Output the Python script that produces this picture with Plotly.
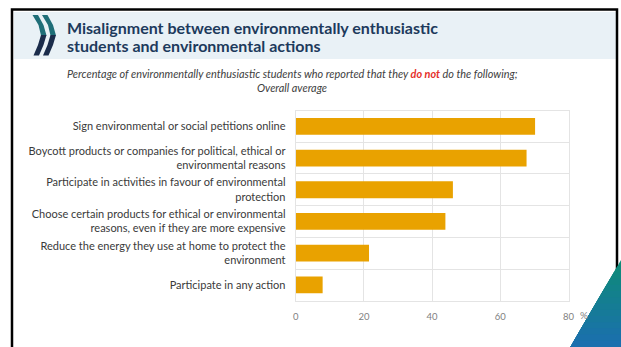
import plotly.graph_objects as go

# Survey items (top to bottom) and share of enthusiastic students who do NOT do them (%)
actions = [
    "Sign environmental or social petitions online",
    "Boycott products or companies for political, ethical or<br>environmental reasons",
    "Participate in activities in favour of environmental<br>protection",
    "Choose certain products for ethical or environmental<br>reasons, even if they are more expensive",
    "Reduce the energy they use at home to protect the<br>environment",
    "Participate in any action",
]
pct_not_doing = [70.2, 67.7, 46.1, 43.9, 21.5, 7.9]
x_ticks = [0, 20, 40, 60, 80]

W, H = 621, 347
FONT = "Lato, 'Liberation Sans', Arial, sans-serif"


def px(x):
    return x / W


def py(y):
    return 1 - y / H


def path(points):
    pts = [f"{px(x):.5f},{py(y):.5f}" for x, y in points]
    return "M" + " L".join(pts) + " Z"


fig = go.Figure()
fig.add_trace(go.Bar(
    x=pct_not_doing,
    y=actions,
    orientation="h",
    marker=dict(color="#E9A200", line=dict(width=0)),
    width=0.53,
    hoverinfo="x+y",
))

shapes = []
# header band
shapes.append(dict(type="rect", xref="paper", yref="paper",
                   x0=px(14), x1=px(616), y0=py(59), y1=py(12),
                   fillcolor="#E9F1F6", line=dict(width=0), layer="below"))
# slide frame
shapes.append(dict(type="path", xref="paper", yref="paper",
                   path=f"M{px(12):.5f},{py(350):.5f} L{px(12):.5f},{py(9.5):.5f} "
                        f"L{px(617):.5f},{py(9.5):.5f} L{px(617):.5f},{py(350):.5f}",
                   line=dict(color="black", width=2.5)))

# logo: two curved chevrons, teal upper halves and navy lower halves
for dx in (0, 9.5):
    upper = [(32.5 + dx, 15), (38 + dx, 15), (43.5 + dx, 25), (46.5 + dx, 35.5),
             (41 + dx, 35.5), (38.5 + dx, 25)]
    lower = [(46.5 + dx, 35), (41 + dx, 35), (38 + dx, 45), (33.5 + dx, 55.5),
             (39 + dx, 55.5), (43.5 + dx, 45)]
    shapes.append(dict(type="path", xref="paper", yref="paper", path=path(upper),
                       fillcolor="#1F6E78", line=dict(width=0)))
    shapes.append(dict(type="path", xref="paper", yref="paper", path=path(lower),
                       fillcolor="#1B2C4B", line=dict(width=0)))

# corner triangle with a teal-to-blue vertical gradient (nested, overlapping layers)
top_c = (14, 140, 118)
bot_c = (27, 110, 176)
n = 14
y_top, y_bot = 260.0, 347.0
for i in range(n):
    ya = y_top + (y_bot - y_top) * i / n
    xa = 621 - 51 * (ya - y_top) / (y_bot - y_top)
    t = (i + 0.5) / n
    c = tuple(int(round(top_c[k] + (bot_c[k] - top_c[k]) * t)) for k in range(3))
    shapes.append(dict(type="path", xref="paper", yref="paper",
                       path=path([(621.5, ya), (xa, ya), (570, 348), (621.5, 348)]),
                       fillcolor=f"rgb{c}", line=dict(width=0)))

annotations = [
    dict(text="<b>Misalignment between environmentally enthusiastic</b>",
         x=px(65), y=py(27.5), xref="paper", yref="paper", xanchor="left", yanchor="middle",
         showarrow=False, font=dict(family=FONT, size=16, color="#1D3A5C")),
    dict(text="<b>students and environmental actions</b>",
         x=px(65), y=py(45), xref="paper", yref="paper", xanchor="left", yanchor="middle",
         showarrow=False, font=dict(family=FONT, size=16, color="#1D3A5C")),
    dict(text="<i>Percentage of environmentally enthusiastic students who reported that they "
              "<span style='color:#E5302A'><b>do not</b></span> do the following;</i>",
         x=px(292), y=py(74), xref="paper", yref="paper", xanchor="center", yanchor="middle",
         showarrow=False, font=dict(family=FONT, size=10.9, color="#404040")),
    dict(text="<i>Overall average</i>",
         x=px(292), y=py(87.5), xref="paper", yref="paper", xanchor="center", yanchor="middle",
         showarrow=False, font=dict(family=FONT, size=10.9, color="#404040")),
    dict(text="%", x=80, xref="x", y=py(315), yref="paper", xanchor="left", yanchor="middle",
         xshift=9, showarrow=False, font=dict(family=FONT, size=10, color="#808080")),
]

fig.update_layout(
    width=W, height=H,
    margin=dict(l=0, r=0, t=0, b=0),
    paper_bgcolor="white", plot_bgcolor="white",
    showlegend=False,
    shapes=shapes,
    annotations=annotations,
    font=dict(family=FONT),
    xaxis=dict(
        domain=[px(295.7), px(568.5)], range=[0, 80],
        tickvals=x_ticks, ticks="", ticklabelstandoff=7,
        tickfont=dict(family=FONT, size=9.5, color="#7F7F7F"),
        showgrid=True, gridcolor="#E4E4E4", gridwidth=1,
        showline=True, linecolor="#E4E4E4", mirror=True,
        zeroline=False, automargin=False, fixedrange=True,
    ),
    yaxis=dict(
        domain=[py(300.7), py(110.5)],
        type="category", categoryorder="array", categoryarray=actions,
        autorange="reversed",
        tickson="boundaries", ticks="", ticklabelstandoff=7,
        tickfont=dict(family=FONT, size=11, color="#3A3A3A"),
        showgrid=True, gridcolor="#E4E4E4", gridwidth=1,
        showline=True, linecolor="#E4E4E4", mirror=True,
        zeroline=False, automargin=False, fixedrange=True,
    ),
)

fig.write_html("out.html")
